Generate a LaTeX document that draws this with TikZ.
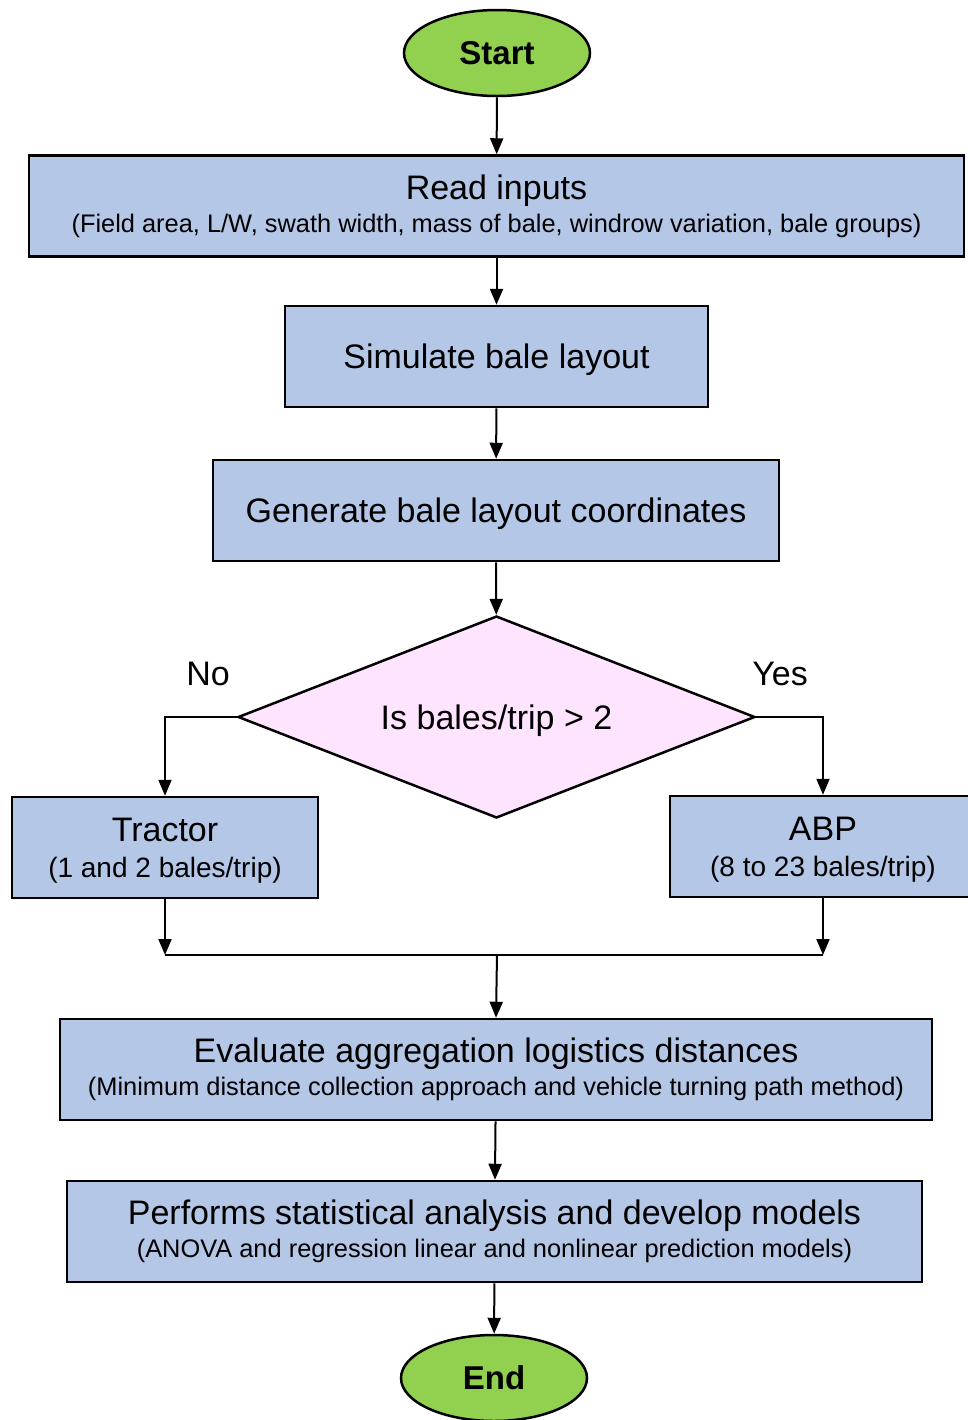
\documentclass[tikz,border=0pt]{standalone}
\usepackage{fontspec}
\setmainfont{Liberation Sans}
\usepackage{tikz}
\usetikzlibrary{arrows.meta,shapes.geometric,calc}
\definecolor{boxblue}{RGB}{180,199,231}
\definecolor{termgreen}{RGB}{146,208,80}
\definecolor{decpink}{RGB}{255,228,255}
\newcommand{\detailtext}[1]{{\fontsize{12.7}{15}\selectfont #1}}
\newcommand{\triptext}[1]{{\fontsize{14}{16}\selectfont #1}}
\tikzset{
  terminal/.style={ellipse, draw, line width=1.25pt, fill=termgreen,
    minimum width=93pt, minimum height=43pt, inner sep=0pt,
    font=\fontsize{16.5}{20}\selectfont\bfseries},
  process/.style={rectangle, draw, line width=1.25pt, fill=boxblue,
    minimum height=50.5pt, align=center, inner sep=2pt,
    font=\fontsize{17}{19}\selectfont},
  oneline/.style={process, text depth=0pt},
  decision/.style={diamond, draw, line width=1.25pt, fill=decpink,
    aspect=2.56, minimum width=258.5pt, minimum height=101pt, inner sep=0pt,
    text depth=0pt, font=\fontsize{17}{20}\selectfont},
  flow/.style={line width=1pt, -{Triangle[length=8pt,width=6.5pt]}},
  branch/.style={font=\fontsize{17}{20}\selectfont}
}
\begin{document}
\begin{tikzpicture}[x=0.5pt,y=-0.5pt]
\useasboundingbox (0,0) rectangle (968,1420);
\node[terminal] (start) at (497,53) {Start};
\node[process, minimum width=467.5pt] (read) at (496.5,206)
  {Read inputs\\[-2.5pt]\detailtext{(Field area, L/W, swath width, mass of bale, windrow variation, bale groups)}};
\node[oneline, minimum width=211.5pt] (simulate) at (496.5,356.5) {Simulate bale layout};
\node[oneline, minimum width=283pt] (generate) at (496,510.5) {Generate bale layout coordinates};
\node[decision] (check) at (496.5,717) {Is bales/trip > 2};
\node[branch] (no) at (208,674) {No};
\node[branch] (yes) at (780,674) {Yes};
\node[oneline, minimum width=153pt] (tractor) at (165,847.5)
  {Tractor\\[-1pt]\triptext{(1 and 2 bales/trip)}};
\node[oneline, minimum width=153pt] (abp) at (823,846.5)
  {ABP\\[-1pt]\triptext{(8 to 23 bales/trip)}};
\coordinate (join) at (497,955);
\node[process, minimum width=436pt] (evaluate) at (496,1069.5)
  {Evaluate aggregation logistics distances\\[-2.5pt]\detailtext{(Minimum distance collection approach and vehicle turning path method)}};
\node[process, minimum width=427.5pt] (performs) at (494.5,1231.5)
  {Performs statistical analysis and develop models\\[-2.5pt]\detailtext{(ANOVA and regression linear and nonlinear prediction models)}};
\node[terminal] (end) at (494,1378) {End};

\draw[flow] (start) -- (read);
\draw[flow] (read) -- (simulate);
\draw[flow] (simulate) -- (generate);
\draw[flow] (generate) -- (check);
\draw[flow] (check.west) -| (tractor.north);
\draw[flow] (check.east) -| (abp.north);
\draw[flow] (tractor.south) -- (tractor.south |- join);
\draw[flow] (abp.south) -- (abp.south |- join);
\draw[line width=1pt] (tractor.south |- join) -- (abp.south |- join);
\draw[flow] (join) -- (evaluate.north);
\draw[flow] (evaluate) -- (performs);
\draw[flow] (performs) -- (end);
\end{tikzpicture}
\end{document}
